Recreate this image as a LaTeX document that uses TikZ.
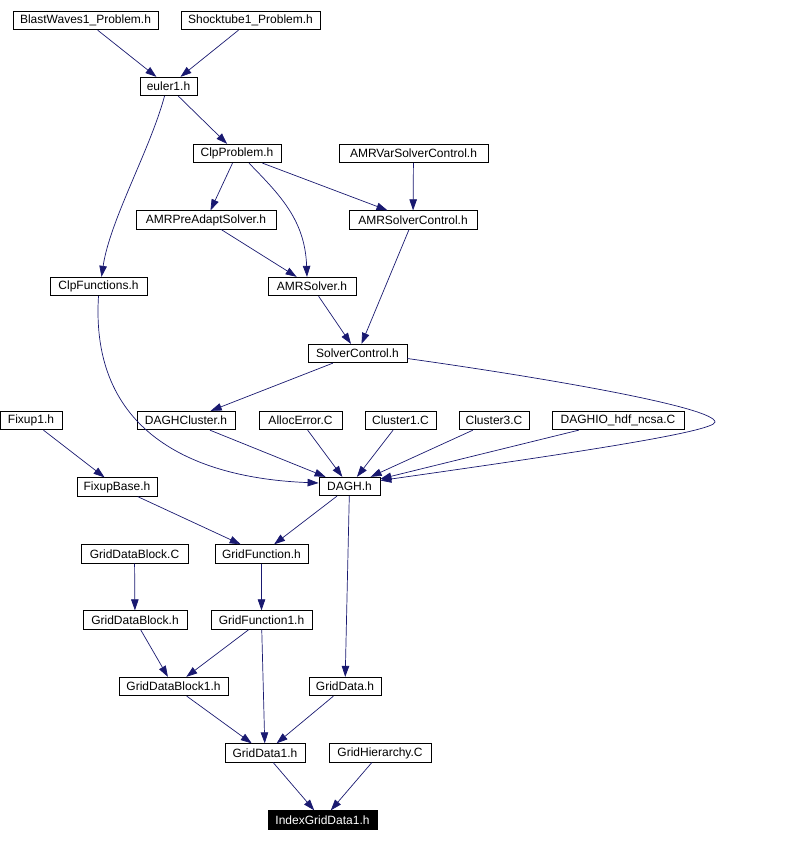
\documentclass[tikz,border=0pt]{standalone}
\usepackage{fontspec}
\setmainfont{Liberation Sans}
\usetikzlibrary{arrows.meta}

\definecolor{edgeblue}{HTML}{191970}

\begin{document}
\begin{tikzpicture}[
    x=1pt, y=-1pt,
    every node/.style={font=\fontsize{12}{14}\selectfont},
    file/.style={draw=black, line width=0.8pt, fill=white, inner sep=0pt, minimum height=18.5},
    mainfile/.style={file, fill=black, text=white},
    dep/.style={draw=edgeblue, line width=0.7pt, -{Triangle[length=11pt, width=7.5pt]}},
]
\useasboundingbox (0,0) rectangle (790,842);

% === Top level ===
\node[file, minimum width=145] (blast) at (85.5,20.5) {BlastWaves1\_Problem.h};
\node[file, minimum width=139] (shock) at (250.5,20.5) {Shocktube1\_Problem.h};
\node[file, minimum width=57] (euler) at (168.5,86.5) {euler1.h};

% === Problem / solver layer ===
\node[file, minimum width=88] (clpprob) at (237,153.5) {ClpProblem.h};
\node[file, minimum width=149] (amrvar) at (413.5,153.5) {AMRVarSolverControl.h};
\node[file, minimum width=140] (preadapt) at (206,220) {AMRPreAdaptSolver.h};
\node[file, minimum width=128] (amrctl) at (413,220) {AMRSolverControl.h};
\node[file, minimum width=97] (clpfun) at (98.5,286.5) {ClpFunctions.h};
\node[file, minimum width=88] (amrsolver) at (312,286.5) {AMRSolver.h};
\node[file, minimum width=99] (solverctl) at (357.5,353.5) {SolverControl.h};

% === DAGH layer ===
\node[file, minimum width=62] (fixup) at (31,420.5) {Fixup1.h};
\node[file, minimum width=98] (daghclu) at (186,420.5) {DAGHCluster.h};
\node[file, minimum width=83] (alloc) at (300.5,420.5) {AllocError.C};
\node[file, minimum width=71] (clu1) at (400.5,420.5) {Cluster1.C};
\node[file, minimum width=70] (clu3) at (494,420.5) {Cluster3.C};
\node[file, minimum width=132] (daghio) at (618,420.5) {DAGHIO\_hdf\_ncsa.C};
\node[file, minimum width=80] (fixbase) at (117,487) {FixupBase.h};
\node[file, minimum width=61] (dagh) at (349.5,486.5) {DAGH.h};

% === Grid layer ===
\node[file, minimum width=107] (gdbc) at (134.5,554) {GridDataBlock.C};
\node[file, minimum width=93] (gfun) at (261.5,554) {GridFunction.h};
\node[file, minimum width=104] (gdbh) at (135,620) {GridDataBlock.h};
\node[file, minimum width=101] (gfun1) at (261.5,620) {GridFunction1.h};
\node[file, minimum width=109] (gdb1) at (173.5,686.5) {GridDataBlock1.h};
\node[file, minimum width=72] (gdata) at (345,686.5) {GridData.h};
\node[file, minimum width=80] (gdata1) at (265,753) {GridData1.h};
\node[file, minimum width=102] (ghier) at (380,753) {GridHierarchy.C};
\node[mainfile, minimum width=109] (index) at (322.5,820) {IndexGridData1.h};

% === Dependencies ===
\draw[dep] (blast) -- (euler);
\draw[dep] (shock) -- (euler);
\draw[dep] (euler) -- (clpprob);
\draw[dep] ([xshift=-4]euler.south) .. controls (150,150) and (110,220) .. ([xshift=3]clpfun.north);
\draw[dep] (clpprob) -- (preadapt);
\draw[dep] ([xshift=12]clpprob.south) .. controls (280,195) and (305,220) .. ([xshift=-5]amrsolver.north);
\draw[dep] (clpprob) -- (amrctl);
\draw[dep] (amrvar) -- (amrctl);
\draw[dep] (preadapt) -- (amrsolver);
\draw[dep] (amrsolver) -- (solverctl);
\draw[dep] (amrctl) -- (solverctl);
\draw[dep] (solverctl) -- (daghclu);

% loop round the right side
\coordinate (turn) at (715,422);
\draw[dep] ([yshift=-5]solverctl.east) .. controls (560,380) and (715,408) .. (turn)
    .. controls (715,432) and (560,455) .. ([yshift=6]dagh.east);

\draw[dep] (clpfun.south) .. controls (90,430) and (190,478) .. ([yshift=3.5]dagh.west);
\draw[dep] (fixup) -- (fixbase);
\draw[dep] (daghclu) -- (dagh);
\draw[dep] (alloc) -- (dagh);
\draw[dep] (clu1) -- (dagh);
\draw[dep] (clu3) -- (dagh);
\draw[dep] (daghio) -- (dagh);
\draw[dep] (fixbase) -- (gfun);
\draw[dep] (dagh) -- (gfun);
\draw[dep] (dagh) -- (gdata);
\draw[dep] (gdbc) -- (gdbh);
\draw[dep] (gfun) -- (gfun1);
\draw[dep] (gdbh) -- (gdb1);
\draw[dep] (gfun1) -- (gdb1);
\draw[dep] (gfun1) -- (gdata1);
\draw[dep] (gdb1) -- (gdata1);
\draw[dep] (gdata) -- (gdata1);
\draw[dep] (gdata1) -- (index);
\draw[dep] (ghier) -- (index);

\end{tikzpicture}
\end{document}
